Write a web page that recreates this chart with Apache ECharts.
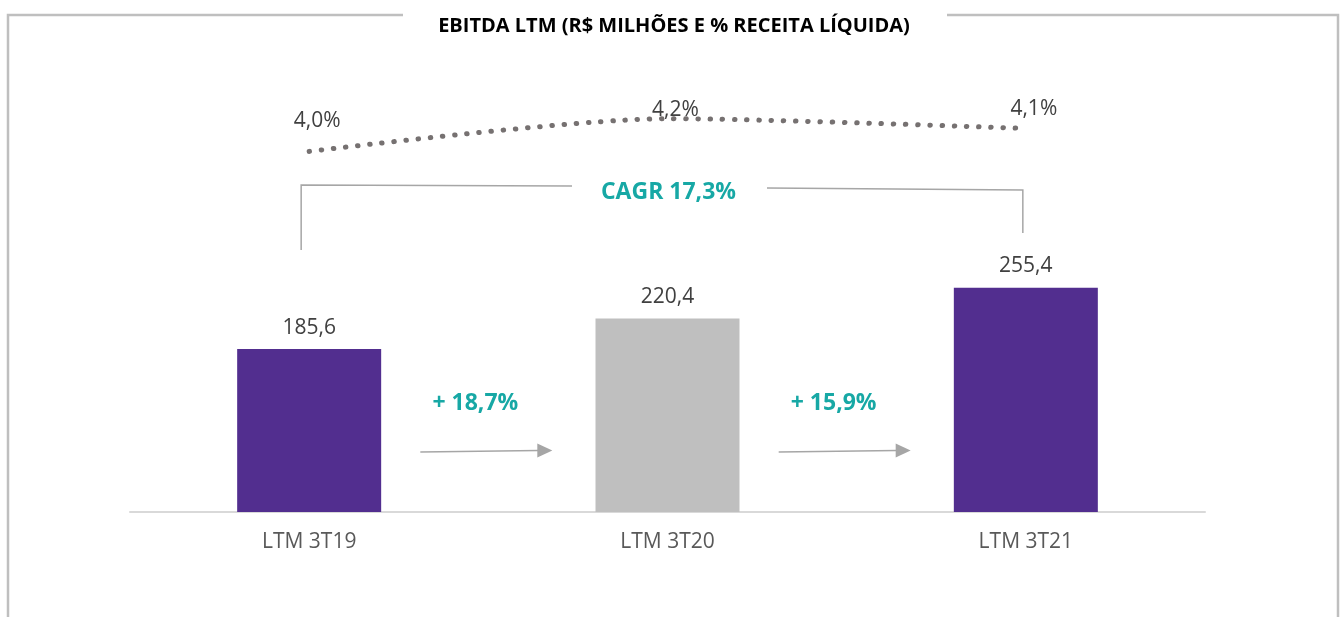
<!DOCTYPE html>
<html>
<head>
<meta charset="utf-8">
<script src="https://cdn.jsdelivr.net/npm/echarts@6/dist/echarts.min.js"></script>
<style>
  html, body { margin: 0; padding: 0; background: #fff; }
  #chart { width: 1343px; height: 617px; }
</style>
</head>
<body>
<div id="chart"></div>
<script>
// dados do gráfico
var categories = ['LTM 3T19', 'LTM 3T20', 'LTM 3T21'];
var ebitda = [185.6, 220.4, 255.4];          // R$ milhões
var margem = [4.0, 4.2, 4.14];               // % receita líquida
var crescimento = ['+ 18,7%', '+ 15,9%'];
var cagrText = 'CAGR 17,3%';
var titleText = 'EBITDA LTM (R$ MILHÕES E % RECEITA LÍQUIDA)';

var FONT = '"Open Sans", sans-serif';
var TEAL = '#17a8a5';
var LINE_GRAY = '#a6a6a6';
var barColors = ['#522e8f', '#bfbfbf', '#522e8f'];
// deslocamento dos rótulos da margem (px)
var labelShift = [[8, -19], [8, 2], [8, -8]];

function fmt(v, d) { return v.toFixed(d).replace('.', ','); }

var chart = echarts.init(document.getElementById('chart'));

chart.setOption({
    animation: false,
    backgroundColor: '#fff',
    title: {
        text: titleText,
        left: 669,
        textAlign: 'center',
        top: 11,
        textStyle: { color: '#000', fontSize: 20, fontWeight: 'bold', fontFamily: FONT }
    },
    grid: { left: 130, right: 138, top: 117, bottom: 105 },
    xAxis: {
        type: 'category',
        data: categories,
        axisLine: { lineStyle: { color: '#d9d9d9', width: 2 } },
        axisTick: { show: false },
        axisLabel: { color: '#595959', fontSize: 21, margin: 20, fontFamily: FONT }
    },
    yAxis: [
        { type: 'value', min: 0, max: 450, show: false },
        { type: 'value', min: 1.8, max: 4.21, show: false }
    ],
    series: [
        {
            name: 'EBITDA',
            type: 'bar',
            barWidth: 144,
            data: ebitda.map(function (v, i) {
                return { value: v, itemStyle: { color: barColors[i] } };
            }),
            label: {
                show: true,
                position: 'top',
                distance: 11,
                color: '#404040',
                fontSize: 21,
                fontFamily: FONT,
                formatter: function (p) { return fmt(p.value, 1); }
            }
        },
        {
            name: 'Margem',
            type: 'line',
            yAxisIndex: 1,
            smooth: 0.25,
            symbol: 'circle',
            symbolSize: 1,
            itemStyle: { color: 'rgba(0,0,0,0)' },
            clip: false,
            data: margem,
            lineStyle: { color: '#767171', width: 5, type: [0.5, 11.7], cap: 'round' },
            label: {
                show: true,
                position: 'top',
                distance: 0,
                color: '#404040',
                fontSize: 21,
                fontFamily: FONT,
                formatter: function (p) { return fmt(p.value, 1) + '%'; }
            },
            labelLayout: function (p) {
                var s = labelShift[p.dataIndex];
                return { dx: s[0], dy: s[1], hideOverlap: false };
            }
        }
    ]
});

// anotações: moldura, colchete do CAGR, setas de crescimento
var xs = categories.map(function (c) { return chart.convertToPixel({ xAxisIndex: 0 }, c); });
var frame = { stroke: '#bfbfbf', lineWidth: 2.5, fill: null };
var g = [
    { type: 'polyline', shape: { points: [[403, 15], [8, 15], [8, 617]] }, style: frame },
    { type: 'polyline', shape: { points: [[947, 15], [1338, 15], [1338, 617]] }, style: frame },
    { type: 'polyline', shape: { points: [[xs[0] - 8, 250], [xs[0] - 8, 185], [572, 186]] },
      style: { stroke: LINE_GRAY, lineWidth: 1.5, fill: null } },
    { type: 'polyline', shape: { points: [[767, 188], [xs[2] - 3, 190], [xs[2] - 3, 233]] },
      style: { stroke: LINE_GRAY, lineWidth: 1.5, fill: null } },
    { type: 'text', x: xs[1] + 1, y: 192,
      style: { text: cagrText, fill: TEAL, font: 'bold 23px ' + FONT, textAlign: 'center', textVerticalAlign: 'middle' } }
];
crescimento.forEach(function (t, i) {
    var mid = (xs[i] + xs[i + 1]) / 2;
    g.push({ type: 'text', x: mid - 13, y: 403,
        style: { text: t, fill: TEAL, font: 'bold 23px ' + FONT, textAlign: 'center', textVerticalAlign: 'middle' } });
    g.push({ type: 'line', shape: { x1: mid - 68, y1: 452, x2: mid + 50, y2: 450.5 },
        style: { stroke: LINE_GRAY, lineWidth: 1.5 } });
    g.push({ type: 'polygon', shape: { points: [[mid + 49, 443.5], [mid + 64, 450.5], [mid + 49, 457.5]] },
        style: { fill: LINE_GRAY } });
});
chart.setOption({ graphic: g });
</script>
</body>
</html>
